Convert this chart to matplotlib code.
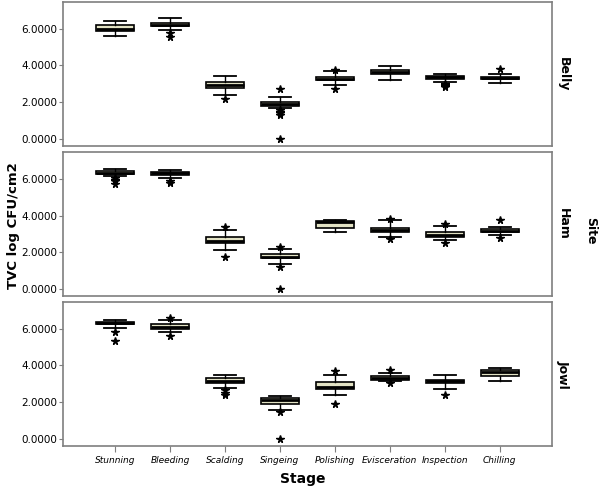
import matplotlib
matplotlib.use("Agg")
import matplotlib.pyplot as plt

stages = ["Stunning", "Bleeding", "Scalding", "Singeing", "Polishing",
          "Evisceration", "Inspection", "Chilling"]
sites = ["Belly", "Ham", "Jowl"]

# Belly
belly_whislo = [5.62, 5.91, 2.36, 1.67, 2.93, 3.20, 3.07, 3.04]
belly_q1     = [5.88, 6.13, 2.76, 1.79, 3.18, 3.55, 3.26, 3.26]
belly_med    = [5.97, 6.22, 2.91, 1.91, 3.27, 3.65, 3.35, 3.31]
belly_q3     = [6.17, 6.33, 3.07, 2.03, 3.37, 3.75, 3.42, 3.37]
belly_whishi = [6.42, 6.55, 3.40, 2.27, 3.68, 3.99, 3.53, 3.55]
belly_out    = [[], [5.78, 5.56], [2.16], [2.71, 1.55, 1.45, 1.38, 1.30, 0.0],
                [3.77, 2.71], [], [3.00, 2.92, 2.85, 2.80], [3.80]]

# Ham
ham_whislo = [6.18, 6.04, 2.11, 1.36, 3.13, 2.83, 2.65, 2.92]
ham_q1     = [6.27, 6.23, 2.49, 1.67, 3.33, 3.13, 2.83, 3.10]
ham_med    = [6.34, 6.30, 2.60, 1.76, 3.67, 3.22, 2.96, 3.17]
ham_q3     = [6.41, 6.38, 2.83, 1.93, 3.73, 3.33, 3.10, 3.28]
ham_whishi = [6.52, 6.48, 3.24, 2.20, 3.75, 3.76, 3.42, 3.37]
ham_out    = [[6.05, 5.95, 5.87, 5.73], [5.87, 5.75], [3.40, 1.76],
              [2.29, 1.22, 0.0], [], [3.80, 2.70], [3.55, 2.51], [3.76, 2.78]]

# Jowl
jowl_whislo = [6.05, 5.84, 2.78, 1.56, 2.37, 3.14, 2.73, 3.14]
jowl_q1     = [6.23, 5.98, 3.02, 1.89, 2.69, 3.23, 3.02, 3.41]
jowl_med    = [6.30, 6.11, 3.14, 2.12, 2.84, 3.32, 3.13, 3.63]
jowl_q3     = [6.38, 6.23, 3.29, 2.21, 3.09, 3.41, 3.23, 3.72]
jowl_whishi = [6.47, 6.47, 3.45, 2.34, 3.45, 3.56, 3.45, 3.83]
jowl_out    = [[5.80, 5.33], [6.56, 5.60], [2.66, 2.51, 2.39], [1.44, 0.0],
               [3.68, 1.89], [3.77, 3.02], [2.39], []]

panels = [
    (belly_whislo, belly_q1, belly_med, belly_q3, belly_whishi, belly_out),
    (ham_whislo, ham_q1, ham_med, ham_q3, ham_whishi, ham_out),
    (jowl_whislo, jowl_q1, jowl_med, jowl_q3, jowl_whishi, jowl_out),
]
yticks = [0, 2, 4, 6]

fig = plt.figure(figsize=(6.0, 4.91), dpi=100)
left, width, height = 0.105, 0.815, 0.293
bottoms = [0.703, 0.397, 0.092]
spine_col = "#7f7f7f"

for i, (site, data, b) in enumerate(zip(sites, panels, bottoms)):
    ax = fig.add_axes([left, b, width, height])
    wl, q1, md, q3, wh, out = data
    stats = []
    for k in range(len(stages)):
        stats.append(dict(whislo=wl[k], q1=q1[k], med=md[k], q3=q3[k],
                          whishi=wh[k], fliers=out[k], label=stages[k]))
    ax.bxp(stats, positions=list(range(1, len(stages) + 1)), widths=0.7,
           patch_artist=True, showfliers=True,
           boxprops=dict(facecolor="#e2e2c4", edgecolor="black", linewidth=1.2),
           medianprops=dict(color="black", linewidth=2.0),
           whiskerprops=dict(color="black", linewidth=1.0),
           capprops=dict(color="black", linewidth=1.3),
           capwidths=0.4,
           flierprops=dict(marker="*", markersize=5.5, markerfacecolor="black",
                           markeredgecolor="black", linestyle="none"))
    ax.set_xlim(0.05, 8.95)
    ax.set_ylim(-0.38, 7.45)
    ax.set_yticks(yticks)
    ax.set_yticklabels([f"{v:.4f}" for v in yticks], fontsize=7.5)
    ax.tick_params(axis="y", length=3, width=0.8, color=spine_col, pad=1)
    for s in ax.spines.values():
        s.set_color(spine_col)
        s.set_linewidth(1.2)
    if i < 2:
        ax.set_xticks([])
    else:
        ax.set_xticks(range(1, len(stages) + 1))
        ax.set_xticklabels(stages, fontsize=6.5, style="italic")
        ax.tick_params(axis="x", length=4, width=0.8, color=spine_col, pad=3)
    ax.text(1.01, 0.5, site, transform=ax.transAxes, rotation=-90,
            ha="left", va="center", fontsize=9, fontweight="bold")

fig.text(0.985, 0.53, "Site", rotation=-90, ha="center", va="center",
         fontsize=9, fontweight="bold")
fig.text(0.022, 0.54, "TVC log CFU/cm2", rotation=90, ha="center", va="center",
         fontsize=9.5, fontweight="bold")
fig.text(0.505, 0.025, "Stage", ha="center", va="center",
         fontsize=10, fontweight="bold")

fig.savefig("out.png", dpi=100)
